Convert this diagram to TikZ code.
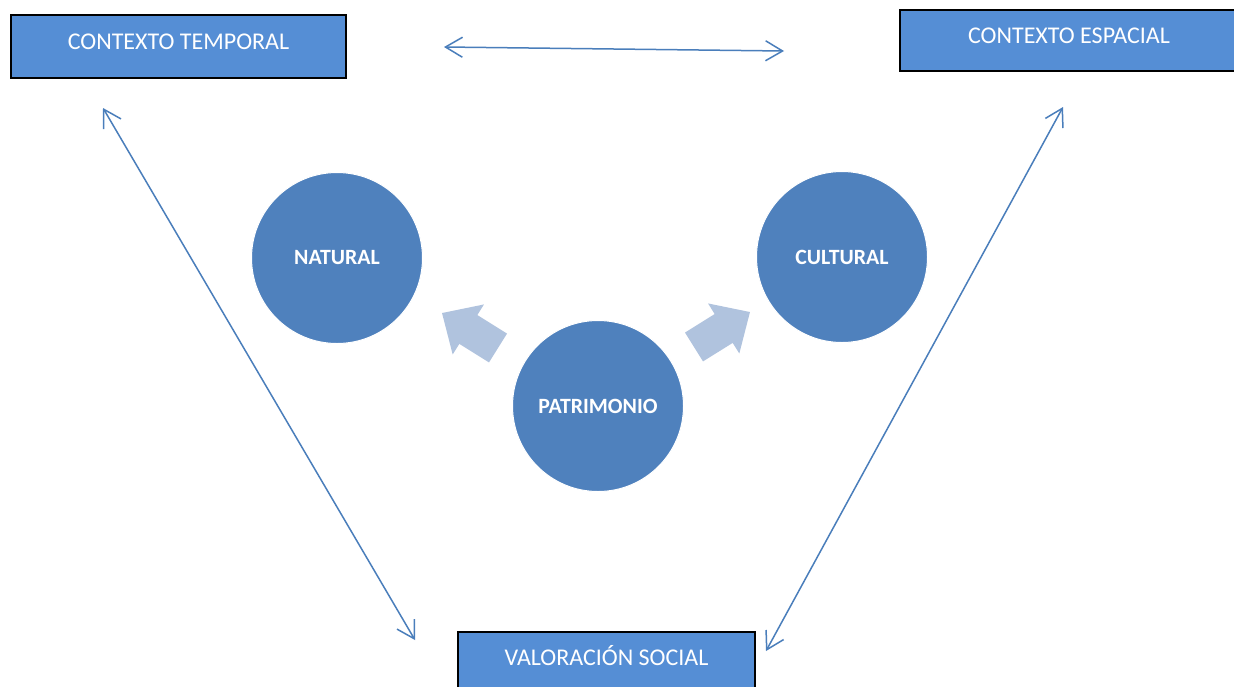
\documentclass[tikz,border=0pt]{standalone}
\usepackage{fontspec}
\setmainfont{Carlito}
\usetikzlibrary{arrows.meta}
\definecolor{boxblue}{HTML}{558ED5}
\definecolor{circblue}{HTML}{4F81BD}
\definecolor{linkblue}{HTML}{4A7EBB}
\definecolor{fatblue}{HTML}{B0C3DE}
\begin{document}
\begin{tikzpicture}[x=1pt,y=-1pt,
  ctxbox/.style={draw=black, line width=2pt, fill=boxblue, text=white,
    font=\fontsize{24}{28}\selectfont, inner sep=0pt, text height=17pt, text depth=11pt},
  circ/.style={circle, fill=circblue, draw=white, line width=1pt, text=white,
    minimum size=171pt, inner sep=0pt, font=\bfseries\fontsize{21.8}{26}\selectfont},
  link/.style={draw=linkblue, line width=1.5pt, {Straight Barb[length=17pt,width=20pt]}-{Straight Barb[length=17pt,width=20pt]}},
  fatarrow/.style={fill=fatblue, draw=none}
]
\useasboundingbox (0,0) rectangle (1234,686);
\fill[white] (0,0) rectangle (1234,686);

\node[ctxbox, minimum width=335pt, minimum height=63pt] (temp) at (178.5,46.5) {CONTEXTO TEMPORAL};
\node[ctxbox, minimum width=338pt, minimum height=61pt] (esp) at (1069,40.5) {CONTEXTO ESPACIAL};
\node[ctxbox, minimum width=297pt, minimum height=60pt] (val) at (606.5,662) {VALORACIÓN SOCIAL};

\node[circ] (nat) at (337,258) {NATURAL};
\node[circ] (cul) at (842,257) {CULTURAL};
\node[circ] (pat) at (598,406) {PATRIMONIO};

\begin{scope}[shift={(498,348)}, rotate=148]
  \fill[fatarrow] (0,-17) -- (35,-17) -- (35,-29.5) -- (66,0) -- (35,29.5) -- (35,17) -- (0,17) -- cycle;
\end{scope}
\begin{scope}[shift={(694,347)}, rotate=32]
  \fill[fatarrow] (0,-17) -- (35,-17) -- (35,-29.5) -- (66,0) -- (35,29.5) -- (35,17) -- (0,17) -- cycle;
\end{scope}

\coordinate (h1) at (444,47);
\coordinate (h2) at (784,51);
\coordinate (l1) at (103,108);
\coordinate (l2) at (415,640);
\coordinate (r1) at (1063,107);
\coordinate (r2) at (766,651);
\draw[link] (h1) -- (h2);
\draw[link] (l1) -- (l2);
\draw[link] (r1) -- (r2);
\end{tikzpicture}
\end{document}
